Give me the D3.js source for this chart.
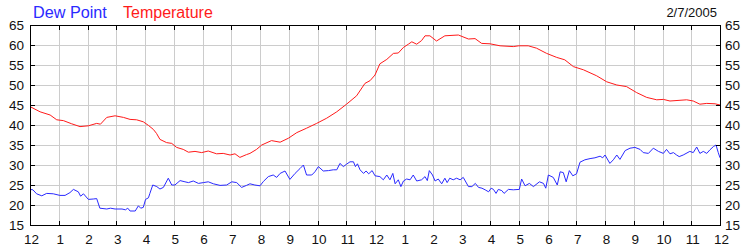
<!DOCTYPE html>
<html><head><meta charset="utf-8">
<script src="https://cdn.jsdelivr.net/npm/d3@7"></script>
<style>body{margin:0;background:#fff;}svg{display:block;font-family:"Liberation Sans",Arial,sans-serif;}</style>
</head><body><svg id="c" width="750" height="250"></svg>
<script>
const seriesNames = ["Dew Point", "Temperature"];
const dateLabel = "2/7/2005";
const xTickLabels = ["12","1","2","3","4","5","6","7","8","9","10","11","12","1","2","3","4","5","6","7","8","9","10","11","12"];
const yTicks = [15,20,25,30,35,40,45,50,55,60,65];

const tempHours = [0,0.35,0.7,0.93,1.16,1.45,1.74,2.03,2.32,2.45,2.67,2.96,3.25,3.48,3.71,3.94,4.12,4.29,4.4,4.52,4.75,4.93,5.1,5.33,5.51,5.74,5.97,6.2,6.49,6.72,6.96,7.13,7.3,7.53,7.65,7.88,8.06,8.4,8.7,8.99,9.28,9.62,9.97,10.32,10.67,11.01,11.36,11.65,11.83,12,12.17,12.41,12.64,12.81,12.99,13.16,13.28,13.45,13.62,13.74,13.91,14.14,14.43,14.9,15.25,15.48,15.71,16,16.35,16.81,17.0,17.33,17.62,17.97,18.32,18.6,18.9,19.25,19.71,20.06,20.41,20.75,21.1,21.45,21.8,22.03,22.26,22.84,23.07,23.3,23.54,23.83,24];
const tempValues = [44.6,43.3,42.5,41.3,41.1,40.3,39.6,39.8,40.4,40.2,41.9,42.3,41.9,41.4,41.3,40.8,39.9,38.9,37.9,36.4,35.6,35.4,34.4,33.9,33.2,33.4,33.1,33.5,32.8,32.9,32.5,32.8,31.9,32.6,32.9,33.9,35.0,36.1,35.7,36.7,38.1,39.2,40.4,41.7,43.3,45.2,47.3,50.4,51.1,52.5,55.3,56.4,57.9,58.0,59.4,60.2,60.8,60.2,61.1,62.3,62.3,61.0,62.3,62.5,61.5,61.6,60.4,60.3,59.8,59.6,59.8,59.8,59.2,57.9,56.9,56.3,54.6,53.8,52.3,50.8,50.0,49.6,48.1,46.9,46.3,46.4,46.0,46.3,46.0,45.2,45.4,45.3,45.0];

const dewHours = [0,0.1,0.23,0.41,0.58,0.81,1.04,1.22,1.39,1.51,1.68,1.76,1.86,2.03,2.2,2.32,2.43,2.67,2.8,2.96,3.2,3.32,3.4,3.48,3.66,3.77,3.85,3.94,4.02,4.12,4.17,4.27,4.41,4.52,4.64,4.81,4.93,5.04,5.22,5.39,5.51,5.68,5.86,6.03,6.2,6.38,6.61,6.84,7.02,7.19,7.36,7.53,7.65,7.82,8.0,8.12,8.29,8.46,8.58,8.7,8.87,9.04,9.22,9.39,9.51,9.62,9.8,9.91,10.03,10.2,10.38,10.55,10.67,10.78,10.9,11.01,11.13,11.25,11.32,11.39,11.48,11.6,11.69,11.78,11.9,12.0,12.17,12.29,12.41,12.52,12.62,12.7,12.81,12.9,12.99,13.1,13.22,13.33,13.45,13.62,13.74,13.82,13.89,14.0,14.09,14.2,14.32,14.43,14.51,14.6,14.72,14.84,14.96,15.07,15.25,15.37,15.49,15.6,15.72,15.83,15.95,16.04,16.12,16.21,16.29,16.41,16.49,16.64,16.81,17.02,17.1,17.22,17.37,17.51,17.72,17.86,17.94,18.03,18.2,18.34,18.44,18.55,18.65,18.76,18.88,19.01,19.13,19.3,19.48,19.65,19.83,19.92,20.0,20.17,20.29,20.41,20.52,20.7,20.87,21.04,21.22,21.33,21.51,21.68,21.86,22.03,22.14,22.26,22.38,22.49,22.58,22.72,22.95,23.07,23.19,23.3,23.42,23.54,23.65,23.77,23.86,23.94,24];
const dewValues = [23.9,23.8,22.8,22.3,22.9,22.8,22.4,22.4,23.1,23.9,23.3,22.2,22.8,21.4,21.5,21.6,19.2,19.0,19.2,19.0,19.0,18.8,19.2,18.5,18.5,19.8,19.2,19.4,21.4,21.8,22.9,25.0,24.6,24.0,24.4,26.7,25.0,25.0,26.1,25.8,25.6,26.0,25.4,25.6,25.8,25.3,24.9,25.0,25.8,25.6,24.4,24.9,25.3,25.0,24.8,25.9,27.1,27.5,26.9,27.9,28.5,26.4,27.9,29.1,30.0,27.5,27.5,28.3,29.6,28.5,28.6,28.8,28.8,30.4,29.6,30.2,30.8,30.8,29.6,30.3,28.8,27.9,28.5,27.8,28.6,27.3,27.1,26.3,27.5,26.3,27.9,25.3,26.3,24.6,26.0,26.5,26.3,27.5,26.0,26.3,27.1,26.1,28.6,27.5,26.0,26.5,25.3,26.7,25.6,26.7,26.3,26.7,26.3,26.9,24.6,24.6,25.4,24.4,24.2,23.8,23.3,24.2,23.9,22.9,23.9,23.6,22.9,23.9,23.8,23.9,26.5,24.8,25.4,24.6,25.8,25.4,24.2,27.5,26.9,25.0,28.3,28.1,25.8,28.6,27.3,27.8,30.7,31.3,31.6,31.8,32.2,31.8,32.5,30.4,31.3,32.5,31.4,33.6,34.2,34.4,33.9,33.1,32.9,34.2,33.4,32.9,33.9,32.8,33.1,32.5,32.1,32.5,33.4,33.1,34.5,32.9,33.4,32.9,33.8,34.6,35.0,33.1,31.8];

const W = 750, H = 250;
const L = 30, R = 720, T = 25, B = 225;
const svg = d3.select("#c");
const x = d3.scaleLinear().domain([0, 24]).range([L, R]);
const y = d3.scaleLinear().domain([15, 65]).range([B, T]);
const hours = d3.range(0, 25);
const px = d => Math.round(x(d)) + 0.5;
const py = d => Math.round(y(d)) + 0.5;

// grid
const g = svg.append("g").attr("shape-rendering", "crispEdges");
g.selectAll("line.v").data(hours.slice(1, -1)).join("line")
  .attr("x1", px).attr("x2", px)
  .attr("y1", T).attr("y2", B).attr("stroke", "#cccccc");
g.selectAll("line.h").data(yTicks.slice(1, -1)).join("line")
  .attr("x1", L).attr("x2", R)
  .attr("y1", py).attr("y2", py).attr("stroke", "#cccccc");

// lines
const line = d3.line().x(d => x(d[0])).y(d => y(d[1]));
svg.append("path").datum(dewHours.map((h, i) => [h, dewValues[i]]))
  .attr("d", line).attr("fill", "none").attr("stroke", "#2a2aff").attr("stroke-width", 1);
svg.append("path").datum(tempHours.map((h, i) => [h, tempValues[i]]))
  .attr("d", line).attr("fill", "none").attr("stroke", "#ff1a1a").attr("stroke-width", 1);

// frame and inward ticks
const f = svg.append("g").attr("shape-rendering", "crispEdges").attr("stroke", "#000");
f.append("line").attr("x1", L + 0.5).attr("x2", L + 0.5).attr("y1", T).attr("y2", B + 1);
f.append("line").attr("x1", R + 0.5).attr("x2", R + 0.5).attr("y1", T).attr("y2", B + 1);
f.append("line").attr("x1", L).attr("x2", R + 1).attr("y1", T + 0.5).attr("y2", T + 0.5);
f.append("line").attr("x1", L).attr("x2", R + 1).attr("y1", B + 0.5).attr("y2", B + 0.5);
f.selectAll("line.tt").data(hours).join("line")
  .attr("x1", px).attr("x2", px).attr("y1", T).attr("y2", T + 5);
f.selectAll("line.bt").data(hours).join("line")
  .attr("x1", px).attr("x2", px).attr("y1", B + 1).attr("y2", B - 4);
f.selectAll("line.lt").data(yTicks).join("line")
  .attr("x1", L).attr("x2", L + 5).attr("y1", py).attr("y2", py);
f.selectAll("line.rt").data(yTicks).join("line")
  .attr("x1", R + 1).attr("x2", R - 4).attr("y1", py).attr("y2", py);

// axis labels
const fs = 13.5;
svg.selectAll("text.yl").data(yTicks).join("text")
  .attr("x", L - 6).attr("y", d => y(d) + 5).attr("text-anchor", "end")
  .attr("font-size", fs).attr("fill", "#111").text(d => d);
svg.selectAll("text.yr").data(yTicks).join("text")
  .attr("x", R + 5).attr("y", d => y(d) + 5).attr("text-anchor", "start")
  .attr("font-size", fs).attr("fill", "#111").text(d => d);
svg.selectAll("text.xl").data(hours).join("text")
  .attr("x", d => x(d) + 1.5).attr("y", 243.5).attr("text-anchor", "middle")
  .attr("font-size", fs).attr("fill", "#111").text((d, i) => xTickLabels[i]);

// legend
svg.append("text").attr("x", 33).attr("y", 18).attr("font-size", 16.2).attr("fill", "#2a2aff").text(seriesNames[0]);
svg.append("text").attr("x", 123).attr("y", 18).attr("font-size", 16).attr("fill", "#ff1a1a").text(seriesNames[1]);
svg.append("text").attr("x", 717).attr("y", 17).attr("text-anchor", "end").attr("font-size", 13).attr("fill", "#111").text(dateLabel);
</script></body></html>
